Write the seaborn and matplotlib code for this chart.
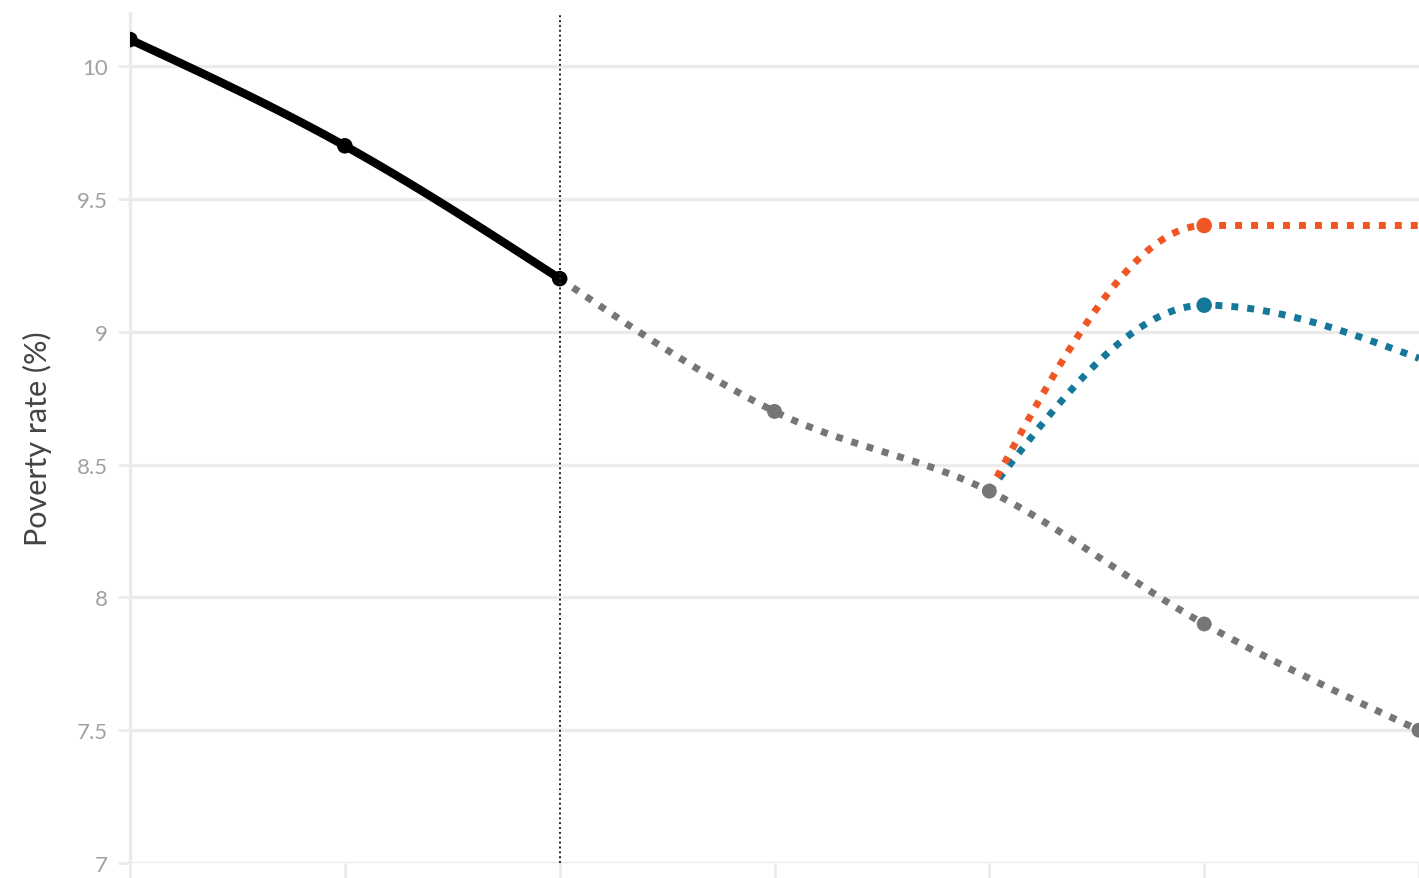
import numpy as np
import pandas as pd
import matplotlib
matplotlib.use("Agg")
import matplotlib.pyplot as plt
import seaborn as sns

# ---- data ----
hist_x = [0, 1, 2]
hist_y = [10.1, 9.7, 9.2]
base_x = [2, 3, 4, 5, 6]
base_y = [9.2, 8.7, 8.4, 7.9, 7.5]
high_x = [4, 5, 6]
high_y = [8.4, 9.4, 9.4]
mid_x = [4, 5, 6]
mid_y = [8.4, 9.1, 8.9]
y_ticks = [7, 7.5, 8, 8.5, 9, 9.5, 10]
y_tick_labels = ["7", "7.5", "8", "8.5", "9", "9.5", "10"]
x_ticks = [0, 1, 2, 3, 4, 5, 6]
y_label = "Poverty rate (%)"
split_x = 2

BLACK = "#000000"
GREY = "#767676"
ORANGE = "#EF5623"
BLUE = "#15789B"
GRID = "#ebebeb"


def monotone(xs, ys, n=60):
    """Monotone cubic (d3 monotoneX style) rendering of a polyline."""
    x = np.asarray(xs, float)
    y = np.asarray(ys, float)
    m = len(x)
    h = np.diff(x)
    s = np.diff(y) / h
    t = np.zeros(m)
    for i in range(1, m - 1):
        p = (s[i - 1] * h[i] + s[i] * h[i - 1]) / (h[i - 1] + h[i])
        t[i] = (np.sign(s[i - 1]) + np.sign(s[i])) * min(abs(s[i - 1]), abs(s[i]), 0.5 * abs(p))
    if m > 2:
        t[0] = (3 * s[0] - t[1]) / 2
        t[-1] = (3 * s[-1] - t[-2]) / 2
    else:
        t[0] = t[-1] = s[0]
    X, Y = [], []
    for i in range(m - 1):
        u = np.linspace(0, 1, n, endpoint=(i == m - 2))
        h00 = 2 * u**3 - 3 * u**2 + 1
        h10 = u**3 - 2 * u**2 + u
        h01 = -2 * u**3 + 3 * u**2
        h11 = u**3 - u**2
        X.append(x[i] + u * h[i])
        Y.append(h00 * y[i] + h10 * h[i] * t[i] + h01 * y[i + 1] + h11 * h[i] * t[i + 1])
    return pd.DataFrame({"x": np.concatenate(X), "y": np.concatenate(Y)})


sns.set_theme(style="white")
plt.rcParams["font.family"] = ["Lato", "DejaVu Sans"]

fig = plt.figure(figsize=(14.19, 8.79), dpi=100)
ax = fig.add_axes([130 / 1419, 15 / 879, 1 - 130 / 1419, 850 / 879])

dot = (0, (1, 1.3))

d = monotone(base_x, base_y)
sns.lineplot(data=d, x="x", y="y", ax=ax, sort=False, estimator=None,
             color=GREY, linewidth=5.0, linestyle=dot, zorder=3)
d = monotone(mid_x, mid_y)
sns.lineplot(data=d, x="x", y="y", ax=ax, sort=False, estimator=None,
             color=BLUE, linewidth=5.0, linestyle=dot, zorder=4)
d = monotone(high_x, high_y)
sns.lineplot(data=d, x="x", y="y", ax=ax, sort=False, estimator=None,
             color=ORANGE, linewidth=5.0, linestyle=dot, zorder=5)
d = monotone(hist_x, hist_y)
sns.lineplot(data=d, x="x", y="y", ax=ax, sort=False, estimator=None,
             color=BLACK, linewidth=6.0, solid_capstyle="round", zorder=6)

for l in ax.lines:
    l.set_dash_capstyle("butt")

sns.scatterplot(x=base_x[1:], y=base_y[1:], ax=ax, color=GREY, s=115,
                edgecolor="none", zorder=7)
sns.scatterplot(x=mid_x[1:2], y=mid_y[1:2], ax=ax, color=BLUE, s=125,
                edgecolor="none", zorder=8)
sns.scatterplot(x=high_x[1:2], y=high_y[1:2], ax=ax, color=ORANGE, s=125,
                edgecolor="none", zorder=8)
sns.scatterplot(x=hist_x, y=hist_y, ax=ax, color=BLACK, s=125,
                edgecolor="none", zorder=9)

ax.axvline(split_x, color="#222222", linewidth=1.4, linestyle=(0, (1, 1.5)), zorder=10)

ax.set_xlim(0, (1419 - 130) / 216.0)
ax.set_ylim(7, 10.2)
ax.set_yticks(y_ticks)
ax.set_yticklabels(y_tick_labels)
ax.set_xticks(x_ticks)
ax.set_xticklabels([])
for yv in y_ticks:
    ax.axhline(yv, color=GRID, linewidth=2.4, zorder=1)

for side in ["top", "right", "bottom"]:
    ax.spines[side].set_visible(False)
ax.spines["left"].set_color(GRID)
ax.spines["left"].set_linewidth(2.4)
ax.spines["left"].set_zorder(1)

ax.tick_params(axis="y", which="major", left=True, length=9, width=2, color=GRID,
               labelsize=16, labelcolor="#a0a0a0", pad=7)
ax.tick_params(axis="x", which="major", bottom=True, length=12, width=2, color=GRID)
ax.set_xlabel("")
ax.set_ylabel(y_label, fontsize=22, color="#444444", labelpad=18)

fig.savefig("out.png", dpi=100)
